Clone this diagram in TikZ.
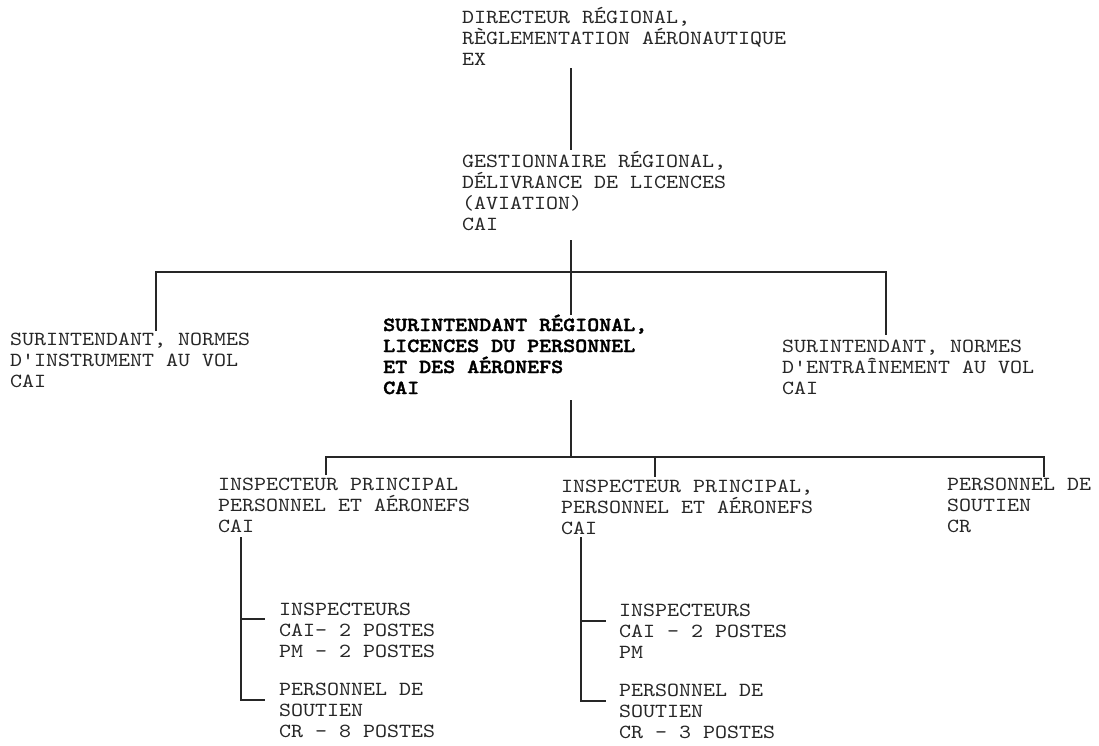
\documentclass[tikz,border=0pt]{standalone}
\usepackage{fontspec}
\newfontfamily\orgmono{lmmono10-regular}[Extension=.otf, FakeStretch=1.143, BoldFont=lmmonolt10-bold, BoldFeatures={FakeStretch=1.143, FakeBold=2}]
\begin{document}
\begin{tikzpicture}[x=1pt,y=-1pt,
  txt/.style={anchor=base west, inner sep=0pt, align=left, text=black!85,
    font=\orgmono\fontsize{20}{21}\selectfont},
  btxt/.style={txt, text=black, font=\orgmono\bfseries\fontsize{20}{21}\selectfont},
  link/.style={line width=1.4pt, draw=black!85}]
\useasboundingbox[fill=white] (0,0) rectangle (1099,745);

% texts (anchor = baseline of the last line)
\node[txt] (dir) at (462,65.7) {DIRECTEUR RÉGIONAL,\\RÈGLEMENTATION AÉRONAUTIQUE\\EX};
\node[txt] (gest) at (462,230.7) {GESTIONNAIRE RÉGIONAL,\\DÉLIVRANCE DE LICENCES\\(AVIATION)\\CAI};
\node[txt] (instr) at (10,387.7) {SURINTENDANT, NORMES\\D'INSTRUMENT AU VOL\\CAI};
\node[btxt] (surreg) at (383,394) {SURINTENDANT RÉGIONAL,\\LICENCES DU PERSONNEL\\ET DES AÉRONEFS\\CAI};
\node[txt] (entr) at (782,394.7) {SURINTENDANT, NORMES\\D'ENTRAÎNEMENT AU VOL\\CAI};
\node[txt] (insp1) at (218,532.7) {INSPECTEUR PRINCIPAL\\PERSONNEL ET AÉRONEFS\\CAI};
\node[txt] (insp2) at (561,534) {INSPECTEUR PRINCIPAL,\\PERSONNEL ET AÉRONEFS\\CAI};
\node[txt] (sout) at (947,532.7) {PERSONNEL DE\\SOUTIEN\\CR};
\node[txt] (ia) at (279,657.7) {INSPECTEURS\\CAI- 2 POSTES\\PM - 2 POSTES};
\node[txt] (sa) at (279,737.7) {PERSONNEL DE\\SOUTIEN\\CR - 8 POSTES};
\node[txt] (ib) at (619,658.7) {INSPECTEURS\\CAI - 2 POSTES\\PM};
\node[txt] (sb) at (619,738) {PERSONNEL DE\\SOUTIEN\\CR - 3 POSTES};

% junction coordinates
\coordinate (d0) at (571,68);
\coordinate (g0) at (571,150);
\coordinate (g1) at (571,240);
\coordinate (busA) at (571,272);
\coordinate (busAl) at (156,272);
\coordinate (busAr) at (886,272);
\coordinate (instrT) at (156,331);
\coordinate (entrT) at (886,335);
\coordinate (surT) at (571,315);
\coordinate (surB) at (571,400);
\coordinate (busB) at (571,457);
\coordinate (busBl) at (326,457);
\coordinate (busBm) at (655,457);
\coordinate (busBr) at (1044,457);
\coordinate (insp1T) at (326,475);
\coordinate (insp2T) at (655,477);
\coordinate (soutT) at (1044,477);
\coordinate (a0) at (241,537);
\coordinate (a1) at (241,619);
\coordinate (a2) at (241,700);
\coordinate (ia0) at (265,619);
\coordinate (sa0) at (265,700);
\coordinate (b0) at (581,537);
\coordinate (b1) at (581,621);
\coordinate (b2) at (581,701);
\coordinate (ib0) at (606,621);
\coordinate (sb0) at (606,701);

% connectors
\draw[link] (d0) -- (g0);
\draw[link] (g1) -- (surT);
\draw[link] (instrT) -- (busAl) -- (busAr) -- (entrT);
\draw[link] (surB) -- (busB);
\draw[link] (insp1T) -- (busBl) -- (busBr) -- (soutT);
\draw[link] (busBm) -- (insp2T);
\draw[link] (a0) -- (a2) -- (sa0);
\draw[link] (a1) -- (ia0);
\draw[link] (b0) -- (b2) -- (sb0);
\draw[link] (b1) -- (ib0);
\end{tikzpicture}
\end{document}
